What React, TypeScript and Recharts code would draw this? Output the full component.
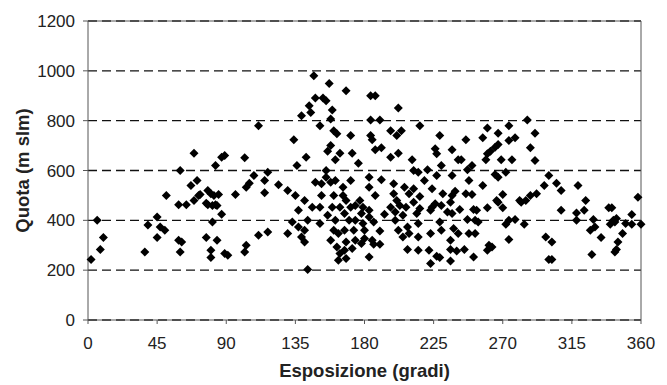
import React from 'react';
import {
    ScatterChart,
    Scatter,
    XAxis,
    YAxis,
    CartesianGrid,
    ReferenceLine
} from 'recharts';

// Esposizione (gradi) and Quota (m slm), pairwise
const esposizione: number[] = [
    2, 6, 8, 10, 37, 39, 45, 45, 47, 50, 51,
    60, 59, 64, 59, 61, 60, 69, 67, 71, 69, 72, 73, 78, 80, 82, 85, 77, 78, 81, 83, 84, 87, 81, 77, 84, 80, 80, 89, 91,
    83, 87, 89, 102, 111, 96, 103, 105, 108, 115, 115, 117, 102, 103, 111, 117,
    147, 157, 168, 148, 153, 155, 144, 145, 139, 159, 158, 151, 160, 162, 171, 134, 158, 156, 164, 172, 161, 142, 136,
    155, 176, 124, 130, 135, 148, 152, 158, 161, 155, 166, 171, 152, 160, 166, 168, 141, 146, 137, 151, 159, 164, 171,
    174, 143, 133, 137, 141, 151, 156, 161, 167, 170, 174, 130, 139, 141, 160, 163, 167, 173, 158, 162, 168, 174, 164,
    167, 172, 163, 168, 143,
    184, 187, 202, 184, 190, 197, 204, 201, 216, 184, 185, 229, 187, 191, 197, 202, 211, 226, 227, 230, 212, 215, 221,
    227, 183, 191, 219, 199, 206, 212, 183, 224, 231, 187, 199, 209, 216, 177, 201, 212, 226, 179, 183, 197, 203, 207,
    216, 224, 230, 178, 183, 193, 200, 205, 214, 223, 234, 179, 186, 200, 208, 215, 229, 180, 190, 202, 209, 223, 230,
    180, 185, 205, 215, 178, 186, 190, 208, 215, 222, 227, 229, 183, 223,
    286, 274, 260, 291, 267, 257, 274, 278, 246, 267, 288, 237, 265, 262, 260, 241, 243, 259, 269, 276, 291, 250, 247,
    272, 237, 265, 267, 248, 257, 239, 237, 246, 250, 270, 266, 267, 281, 285, 282, 288, 292, 236, 242, 251, 253, 260,
    270, 237, 247, 252, 254, 274, 278, 284, 272, 238, 241, 248, 252, 274, 236, 245, 240, 236, 261, 263, 260, 251, 236,
    300, 297, 305, 308, 308, 319, 324, 318, 323, 318, 329, 327, 330, 334, 339, 341, 342, 340, 344, 343, 354, 358, 350,
    354, 360, 348, 345, 344, 343, 298, 302, 300, 302, 328
];

const quota: number[] = [
    243, 400, 283, 331, 273, 381, 413, 331, 373, 360, 500,
    600, 463, 463, 320, 313, 273, 669, 540, 560, 480, 500, 504, 520, 507, 500, 504, 469, 463, 460, 463, 460, 424, 393, 331, 320, 280, 251, 267, 260,
    620, 653, 660, 651, 780, 504, 533, 549, 580, 560, 511, 593, 273, 300, 340, 353,
    980, 949, 920, 891, 891, 880, 860, 833, 820, 843, 807, 780, 760, 747, 740, 723, 700, 677, 669, 669, 643, 653, 620,
    600, 629, 543, 520, 500, 553, 547, 553, 560, 573, 533, 560, 500, 500, 500, 480, 480, 453, 440, 453, 453, 453, 453,
    460, 400, 393, 373, 360, 387, 420, 400, 427, 400, 400, 347, 333, 313, 360, 347, 360, 360, 320, 293, 313, 320, 267,
    280, 287, 240, 247, 203,
    900, 900, 851, 803, 803, 760, 760, 740, 780, 740, 723, 740, 683, 691, 653, 669, 643, 687, 667, 620, 600, 593, 603,
    580, 573, 563, 560, 547, 533, 527, 533, 527, 507, 500, 507, 507, 496, 480, 480, 473, 467, 453, 440, 453, 460, 453,
    447, 453, 460, 427, 413, 424, 433, 420, 427, 440, 433, 387, 393, 400, 373, 387, 393, 360, 357, 360, 347, 347, 360,
    327, 320, 333, 333, 307, 304, 304, 283, 280, 280, 256, 251, 253, 227,
    803, 780, 771, 749, 749, 731, 720, 731, 723, 704, 691, 683, 693, 677, 667, 643, 643, 643, 643, 643, 640, 620, 603,
    593, 580, 584, 573, 560, 540, 517, 500, 507, 504, 504, 480, 473, 480, 480, 473, 500, 507, 473, 443, 443, 440, 451,
    451, 427, 403, 400, 393, 400, 403, 384, 384, 367, 347, 347, 347, 323, 320, 283, 277, 283, 300, 293, 280, 253, 237,
    580, 540, 549, 520, 440, 540, 480, 429, 440, 400, 403, 360, 373, 331, 451, 451, 400, 384, 407, 393, 423, 493, 387,
    384, 384, 347, 313, 283, 273, 333, 313, 243, 243, 263
];

const xTicks = [0, 45, 90, 135, 180, 225, 270, 315, 360];
const yTicks = [0, 200, 400, 600, 800, 1000, 1200];

const points = esposizione.map((x, i) => ({ x, y: quota[i] }));

// diamond marker, same width and height
const Diamond = (props: any) => {
    const { cx, cy } = props;
    if (cx == null || cy == null) return null;
    const r = 4.5;
    return (
        <polygon
            points={`${cx},${cy - r} ${cx + r},${cy} ${cx},${cy + r} ${cx - r},${cy}`}
            fill="#000"
        />
    );
};

const tickStyle = { fill: '#222', fontSize: 17, fontFamily: 'Liberation Sans, Arial, sans-serif' };
const labelStyle = { fill: '#222', fontSize: 18.5, fontWeight: 'bold', fontFamily: 'Liberation Sans, Arial, sans-serif', textAnchor: 'middle' as const };

export default function App() {
    return (
        <div style={{ position: 'absolute', left: 0, top: 0, width: 667, height: 385, background: '#fff' }}>
            <ScatterChart width={667} height={385} margin={{ top: 21, right: 26, left: 0, bottom: 0 }}>
                <CartesianGrid
                    vertical={false}
                    stroke="#111"
                    strokeWidth={1.4}
                    strokeDasharray="9 5"
                />
                <XAxis
                    type="number"
                    dataKey="x"
                    domain={[0, 360]}
                    ticks={xTicks}
                    interval={0}
                    height={65}
                    tick={tickStyle}
                    tickSize={4}
                    tickMargin={13}
                    stroke="#555"
                    label={{ value: 'Esposizione (gradi)', position: 'insideBottom', offset: 8, style: labelStyle }}
                />
                <YAxis
                    type="number"
                    dataKey="y"
                    domain={[0, 1200]}
                    ticks={yTicks}
                    interval={0}
                    width={88}
                    tick={tickStyle}
                    tickSize={5}
                    tickMargin={8}
                    stroke="#555"
                    label={{ value: 'Quota (m slm)', angle: -90, position: 'insideLeft', offset: 22, style: labelStyle }}
                />
                <ReferenceLine y={1200} stroke="#555" strokeWidth={1} />
                <ReferenceLine x={360} stroke="#555" strokeWidth={1} />
                <Scatter data={points} shape={Diamond} isAnimationActive={false} />
            </ScatterChart>
        </div>
    );
}
